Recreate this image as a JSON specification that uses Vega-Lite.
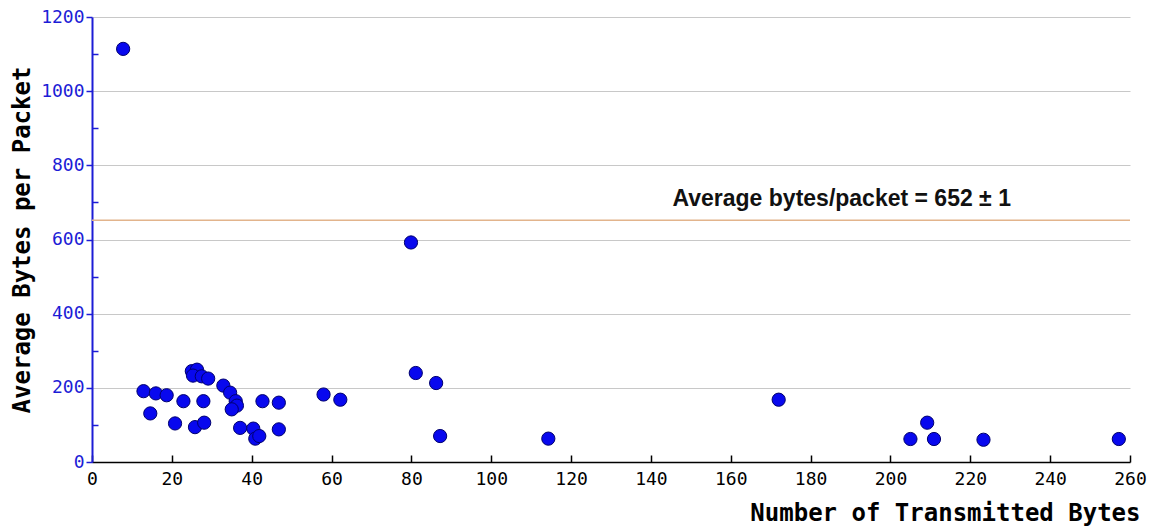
{
  "$schema": "https://vega.github.io/schema/vega-lite/v6.json",
  "autosize": "none",
  "width": 1038,
  "height": 445,
  "padding": {"left": 92, "top": 17, "right": 26, "bottom": 69},
  "background": "white",
  "config": {"view": {"stroke": null}},
  "datasets": {
    "points": [
      {"bytes": 7.8, "avg": 1114},
      {"bytes": 79.9, "avg": 592},
      {"bytes": 81.1, "avg": 240},
      {"bytes": 86.2, "avg": 213},
      {"bytes": 87.2, "avg": 70},
      {"bytes": 114.3, "avg": 63},
      {"bytes": 172, "avg": 168},
      {"bytes": 205, "avg": 62},
      {"bytes": 209.2, "avg": 106},
      {"bytes": 210.9, "avg": 62},
      {"bytes": 223.3, "avg": 60},
      {"bytes": 257.2, "avg": 62},
      {"bytes": 12.9, "avg": 191},
      {"bytes": 16.0, "avg": 185},
      {"bytes": 18.7, "avg": 180},
      {"bytes": 14.6, "avg": 131},
      {"bytes": 22.9, "avg": 164},
      {"bytes": 20.8, "avg": 104},
      {"bytes": 25.0, "avg": 245},
      {"bytes": 26.3, "avg": 249},
      {"bytes": 25.3, "avg": 233},
      {"bytes": 27.5, "avg": 231},
      {"bytes": 29.1, "avg": 225},
      {"bytes": 27.9, "avg": 164},
      {"bytes": 25.8, "avg": 94},
      {"bytes": 28.1, "avg": 106},
      {"bytes": 32.9, "avg": 206},
      {"bytes": 34.6, "avg": 187},
      {"bytes": 36.0, "avg": 164},
      {"bytes": 36.3, "avg": 152},
      {"bytes": 35.0, "avg": 142},
      {"bytes": 37.1, "avg": 92},
      {"bytes": 40.4, "avg": 90},
      {"bytes": 40.9, "avg": 63},
      {"bytes": 41.9, "avg": 70},
      {"bytes": 42.7, "avg": 164},
      {"bytes": 46.8, "avg": 160},
      {"bytes": 46.8, "avg": 88},
      {"bytes": 58.0, "avg": 182},
      {"bytes": 62.2, "avg": 168}
    ],
    "avgline": [{"label": "Average bytes/packet = 652 ± 1", "value": 652}]
  },
  "resolve": {"axis": {"y": "independent"}},
  "layer": [
    {
      "data": {"name": "avgline"},
      "mark": {"type": "rule", "color": "#e2b48c", "strokeWidth": 1.5},
      "encoding": {
        "y": {
          "field": "value", "type": "quantitative",
          "scale": {"domain": [0, 1200], "nice": false},
          "axis": {
            "orient": "left", "title": null, "labels": false, "domain": false, "grid": false,
            "values": [100, 300, 500, 700, 900, 1100],
            "tickSize": -6, "tickColor": "#1c1cd6", "tickWidth": 1.5
          }
        }
      }
    },
    {
      "data": {"name": "avgline"},
      "mark": {"type": "text", "font": "Liberation Sans", "fontWeight": "bold", "fontSize": 23, "align": "left", "baseline": "alphabetic", "dy": -14, "color": "#111111"},
      "encoding": {
        "text": {"field": "label"},
        "x": {"datum": 145.4, "type": "quantitative"},
        "y": {"field": "value", "type": "quantitative", "axis": null}
      }
    },
    {
      "data": {"name": "points"},
      "mark": {"type": "point", "shape": "circle", "filled": true, "size": 175, "fill": "#0808ee", "stroke": "#00006e", "strokeWidth": 1, "opacity": 1},
      "encoding": {
        "x": {
          "field": "bytes", "type": "quantitative",
          "scale": {"domain": [0, 260], "nice": false, "zero": true},
          "axis": {
            "title": "Number of Transmitted Bytes",
            "titleFont": "DejaVu Sans Mono", "titleFontWeight": "bold", "titleFontSize": 24, "titleColor": "#000000",
            "titleAnchor": "end", "titleAlign": "right", "titleBaseline": "alphabetic", "titleX": 1048, "titleY": 58,
            "values": [0,10,20,30,40,50,60,70,80,90,100,110,120,130,140,150,160,170,180,190,200,210,220,230,240,250,260],
            "labelExpr": "datum.value % 20 === 0 ? datum.label : ''",
            "labelFont": "DejaVu Sans Mono", "labelFontSize": 18, "labelColor": "#000000", "labelFlush": false,
            "labelPadding": 15,
            "tickSize": -7,
            "tickColor": "#000000", "tickWidth": 1.5,
            "domainColor": "#000000", "domainWidth": 1.5,
            "grid": false
          }
        },
        "y": {
          "field": "avg", "type": "quantitative",
          "scale": {"domain": [0, 1200], "nice": false},
          "axis": {
            "orient": "left",
            "title": "Average Bytes per Packet",
            "titleFont": "DejaVu Sans Mono", "titleFontWeight": "bold", "titleFontSize": 24, "titleColor": "#000000",
            "titleX": -70, "titleBaseline": "middle",
            "values": [0,200,400,600,800,1000,1200],
            "labelFont": "DejaVu Sans Mono", "labelFontSize": 18, "labelColor": "#1c1cd6", "labelFlush": false,
            "labelPadding": 2,
            "tickSize": 6,
            "tickColor": "#1c1cd6", "tickWidth": 1.5,
            "domainColor": "#1c1cd6", "domainWidth": 2,
            "grid": true,
            "gridColor": "#c8c8c8",
            "gridOpacity": {"condition": {"test": "datum.value > 0", "value": 1}, "value": 0},
            "gridWidth": 1,
            "format": "d"
          }
        }
      }
    }
  ]
}
